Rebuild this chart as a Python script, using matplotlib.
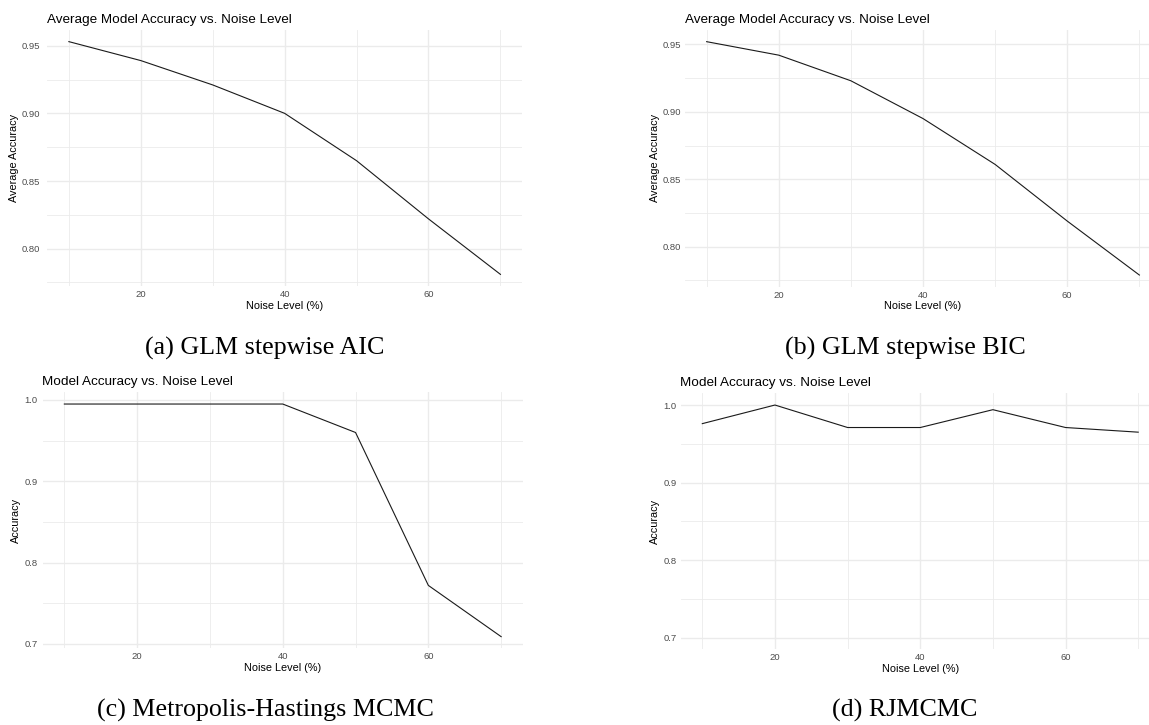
import matplotlib
matplotlib.use('Agg')
import matplotlib.pyplot as plt
from matplotlib.ticker import FixedLocator, FormatStrFormatter

# data
noise = [10, 20, 30, 40, 50, 60, 70]
acc_aic = [0.953, 0.939, 0.921, 0.900, 0.865, 0.822, 0.781]
acc_bic = [0.952, 0.942, 0.923, 0.895, 0.861, 0.819, 0.779]
acc_mh = [0.995, 0.995, 0.995, 0.995, 0.960, 0.772, 0.709]
acc_rj = [0.976, 1.000, 0.971, 0.971, 0.994, 0.971, 0.965]

x_major = [20, 40, 60]
x_minor = [10, 30, 50, 70]
y_major_glm = [0.80, 0.85, 0.90, 0.95]
y_minor_glm = [0.775, 0.825, 0.875, 0.925]
y_major_mc = [0.7, 0.8, 0.9, 1.0]
y_minor_mc = [0.75, 0.85, 0.95]

titles = ['Average Model Accuracy vs. Noise Level', 'Average Model Accuracy vs. Noise Level',
          'Model Accuracy vs. Noise Level', 'Model Accuracy vs. Noise Level']
ylabels = ['Average Accuracy', 'Average Accuracy', 'Accuracy', 'Accuracy']
captions = ['(a) GLM stepwise AIC', '(b) GLM stepwise BIC',
            '(c) Metropolis-Hastings MCMC', '(d) RJMCMC']

W, H = 1149, 725
plt.rcParams['font.family'] = ['Liberation Sans', 'DejaVu Sans']
fig = plt.figure(figsize=(W / 100, H / 100), dpi=100)
fig.patch.set_facecolor('white')

# panel boxes in pixels: left, right, top, bottom
boxes = [(47.3, 522, 30, 286), (685, 1161, 30, 286.7),
         (42.5, 523, 392.4, 648.3), (680.5, 1160, 393.4, 649.3)]
series = [acc_aic, acc_bic, acc_mh, acc_rj]
fmt = ['%.2f', '%.2f', '%.1f', '%.1f']
ypads = [7, 4, 5, 4]

def expand(lo, hi):
    d = 0.05 * (hi - lo)
    return lo - d, hi + d

for i in range(4):
    l, r, t, b = boxes[i]
    ax = fig.add_axes([l / W, 1 - b / H, (r - l) / W, (b - t) / H])
    ax.plot(noise, series[i], color='#1a1a1a', lw=0.8)
    ax.set_xlim(7, 73)
    if i == 3:
        ax.set_ylim(*expand(0.7, 1.0))
    else:
        ax.set_ylim(*expand(min(series[i]), max(series[i])))

    ax.xaxis.set_major_locator(FixedLocator(x_major))
    ax.xaxis.set_minor_locator(FixedLocator(x_minor))
    if i < 2:
        ax.yaxis.set_major_locator(FixedLocator(y_major_glm))
        ax.yaxis.set_minor_locator(FixedLocator(y_minor_glm))
    else:
        ax.yaxis.set_major_locator(FixedLocator(y_major_mc))
        ax.yaxis.set_minor_locator(FixedLocator(y_minor_mc))
    ax.yaxis.set_major_formatter(FormatStrFormatter(fmt[i]))

    ax.grid(which='major', color='#EBEBEB', lw=1.0)
    ax.grid(which='minor', color='#EBEBEB', lw=0.6)
    ax.set_axisbelow(True)
    for s in ax.spines.values():
        s.set_visible(False)
    ax.tick_params(which='both', length=0, labelsize=6.8, labelcolor='#4D4D4D')
    ax.tick_params(axis='x', pad=3)
    ax.tick_params(axis='y', pad=ypads[i] * 0.72)

    ax.set_title(titles[i], loc='left', fontsize=9.7, pad=5)
    ax.set_xlabel('Noise Level (%)', fontsize=7.8, labelpad=1)
    ax.set_ylabel(ylabels[i], fontsize=7.8, labelpad=2)

# subfigure captions
cap_x = [265, 905, 265, 905]
cap_y = [348, 348, 710, 710]
for i in range(4):
    fig.text(cap_x[i] / W, 1 - cap_y[i] / H, captions[i], ha='center', va='center',
             fontsize=18.7, family=['Liberation Serif', 'DejaVu Serif'])

fig.savefig('out.png', dpi=100)
